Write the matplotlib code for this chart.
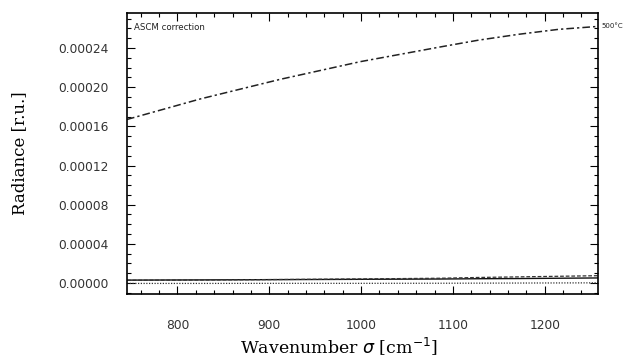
import matplotlib
matplotlib.use("Agg")
import matplotlib.pyplot as plt
from matplotlib.ticker import MultipleLocator, FormatStrFormatter

# Data
wavenumber = [745, 825, 912, 999, 1086, 1128, 1172, 1215, 1258]
ascm_500 = [0.000167, 0.000188, 0.000208, 0.000226, 0.000241, 0.000248, 0.000254, 0.000259, 0.000262]
low_solid = [0.0000030, 0.0000032, 0.0000035, 0.0000038, 0.0000041, 0.0000044, 0.0000046, 0.0000049, 0.0000052]
low_dashed = [0.0000028, 0.0000031, 0.0000036, 0.0000042, 0.0000049, 0.0000057, 0.0000063, 0.0000069, 0.0000075]
low_dotted = [-0.0000004, -0.0000004, -0.0000003, -0.0000003, -0.0000002, -0.0000001, 0.0000000, 0.0000001, 0.0000002]

x_ticks = [800, 900, 1000, 1100, 1200]
y_ticks = [0.0, 0.00004, 0.00008, 0.00012, 0.00016, 0.00020, 0.00024]

fig = plt.figure(figsize=(6.29, 3.6), dpi=100)
ax = fig.add_axes([0.2019, 0.1833, 0.7488, 0.7806])

ax.plot(wavenumber, ascm_500, color="#222222", lw=1.1, dashes=[5, 2, 1.5, 2])
ax.plot(wavenumber, low_solid, color="#111111", lw=1.0)
ax.plot(wavenumber, low_dashed, color="#333333", lw=0.9, dashes=[3, 1.5])
ax.plot(wavenumber, low_dotted, color="#333333", lw=0.9, dashes=[1, 1.2])

ax.set_xlim(745, 1258)
ax.set_ylim(-0.0000112, 0.0002757)
ax.set_xticks(x_ticks)
ax.set_yticks(y_ticks)
ax.yaxis.set_major_formatter(FormatStrFormatter("%.5f"))
ax.xaxis.set_minor_locator(MultipleLocator(20))
ax.yaxis.set_minor_locator(MultipleLocator(0.00001))
ax.tick_params(which="both", direction="in", top=True, right=True, width=0.8)
ax.tick_params(which="major", length=6, labelsize=8.8)
ax.tick_params(axis="x", which="major", pad=18)
ax.tick_params(axis="y", which="major", pad=13)
ax.tick_params(which="minor", length=3)
for lbl in ax.get_xticklabels() + ax.get_yticklabels():
    lbl.set_color("#333333")
for s in ax.spines.values():
    s.set_linewidth(1.2)

ax.set_xlabel(r"Wavenumber $\sigma$ [cm$^{-1}$]", family="DejaVu Serif", fontsize=12.5)
ax.set_ylabel("Radiance [r.u.]", family="DejaVu Serif", fontsize=12)
ax.xaxis.set_label_coords(0.45, -0.148)
ax.yaxis.set_label_coords(-0.21, 0.5)

ax.text(0.015, 0.965, "ASCM correction", transform=ax.transAxes, fontsize=6.2,
        va="top", ha="left", color="#222222")
ax.text(1.008, ascm_500[-1], "500°C", transform=ax.get_yaxis_transform(), fontsize=5,
        va="center", ha="left", color="#222222")

fig.savefig("out.png", dpi=100)
